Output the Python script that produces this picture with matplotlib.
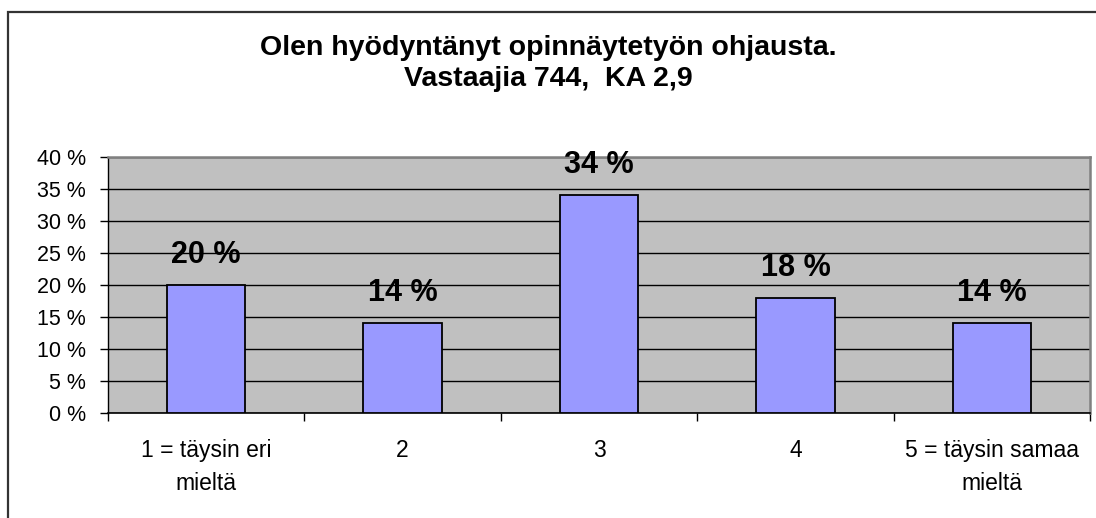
import matplotlib
matplotlib.use("Agg")
import matplotlib.pyplot as plt
from matplotlib.patches import Rectangle
from matplotlib.ticker import FixedLocator, FuncFormatter

categories = ["1 = täysin eri\nmieltä", "2", "3", "4", "5 = täysin samaa\nmieltä"]
values = [20, 14, 34, 18, 14]
y_ticks = [0, 5, 10, 15, 20, 25, 30, 35, 40]
title_lines = ["Olen hyödyntänyt opinnäytetyön ohjausta.", "Vastaajia 744,  KA 2,9"]

plt.rcParams["font.family"] = ["Liberation Sans", "DejaVu Sans"]

W, H = 1096, 518
fig = plt.figure(figsize=(W / 100, H / 100), dpi=100)
fig.patch.set_facecolor("white")

# chart-area frame
fig.patches.append(Rectangle((8 / W, -0.1), 1.2, (H - 12) / H + 0.1,
                             transform=fig.transFigure, fill=False,
                             edgecolor="#333333", linewidth=1.6))

ax = fig.add_axes([108 / W, (H - 413) / H, (1090 - 108) / W, (413 - 157) / H])
ax.set_facecolor("#C0C0C0")

x = list(range(len(values)))
ax.bar(x, values, width=0.4, color="#9999FF", edgecolor="black",
       linewidth=1.3, zorder=3)

for xi, v in zip(x, values):
    ax.annotate(f"{v} %", (xi, v), xytext=(0, 16), textcoords="offset points",
                ha="center", va="baseline", fontsize=22, fontweight="bold",
                zorder=4, annotation_clip=False)

ax.set_xlim(-0.5, len(values) - 0.5)
ax.set_ylim(0, 40)
ax.yaxis.set_major_locator(FixedLocator(y_ticks))
ax.yaxis.set_major_formatter(FuncFormatter(lambda v, p: f"{int(v)} %"))
ax.grid(axis="y", color="black", linewidth=1.0, zorder=1)
ax.set_axisbelow(True)

ax.set_xticks([i - 0.5 for i in range(len(values) + 1)])
ax.set_xticklabels([])
ax.set_xticks(x, minor=True)
ax.set_xticklabels(categories, minor=True)
ax.tick_params(axis="x", which="major", direction="out", length=6,
               width=1, color="black")
ax.tick_params(axis="x", which="minor", length=0, pad=19, labelsize=16.5)
for lbl in ax.get_xticklabels(minor=True):
    lbl.set_linespacing(1.55)
ax.tick_params(axis="y", direction="out", length=6, width=1,
               labelsize=15.5, pad=10)

for side in ["top", "right"]:
    ax.spines[side].set_color("#808080")
    ax.spines[side].set_linewidth(1.8)
ax.spines["left"].set_color("black")
ax.spines["bottom"].set_color("black")
ax.spines["left"].set_linewidth(1.0)
ax.spines["bottom"].set_linewidth(1.2)

fig.text(0.5, 1 - 48 / H, title_lines[0], ha="center", va="center",
         fontsize=20.5, fontweight="bold")
fig.text(0.5, 1 - 79 / H, title_lines[1], ha="center", va="center",
         fontsize=20.5, fontweight="bold")

fig.savefig("out.png", dpi=100)
